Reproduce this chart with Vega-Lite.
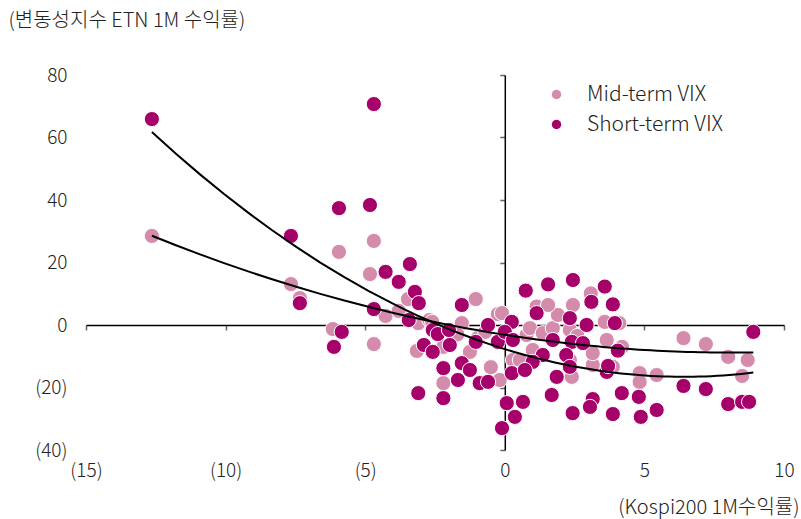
{
  "$schema": "https://vega.github.io/schema/vega-lite/v6.json",
  "width": 698,
  "height": 375,
  "autosize": "none",
  "padding": {"left": 86, "top": 75, "right": 17, "bottom": 69},
  "background": "white",
  "config": {
    "view": {"stroke": null},
    "font": "Noto Sans CJK KR",
    "axis": {
      "labelFont": "Noto Sans CJK KR",
      "labelFontSize": 19,
      "labelFontWeight": 300,
      "labelColor": "#222222",
      "titleFont": "Noto Sans CJK KR",
      "titleFontSize": 20,
      "titleFontWeight": 300,
      "titleColor": "#222222",
      "grid": false,
      "domainColor": "#000000",
      "domainWidth": 1.5,
      "tickColor": "#666666",
      "tickWidth": 1.5,
      "tickSize": 5,
      "labelFlush": false,
      "labelOverlap": false
    },
    "legend": {
      "labelFont": "Noto Sans CJK KR",
      "labelFontSize": 21,
      "labelFontWeight": 300,
      "labelColor": "#222222"
    }
  },
  "data": {
    "values": [
      {"series": "Mid-term VIX", "x": -12.64, "y": 28.5},
      {"series": "Mid-term VIX", "x": -7.66, "y": 13.1},
      {"series": "Mid-term VIX", "x": -7.34, "y": 8.6},
      {"series": "Mid-term VIX", "x": -5.94, "y": 23.4},
      {"series": "Mid-term VIX", "x": -4.69, "y": 26.9},
      {"series": "Mid-term VIX", "x": -4.83, "y": 16.3},
      {"series": "Mid-term VIX", "x": -4.27, "y": 2.9},
      {"series": "Mid-term VIX", "x": -3.8, "y": 4.5},
      {"series": "Mid-term VIX", "x": -6.16, "y": -1.3},
      {"series": "Mid-term VIX", "x": -4.69, "y": -6.1},
      {"series": "Mid-term VIX", "x": -3.47, "y": 8.3},
      {"series": "Mid-term VIX", "x": -3.1, "y": 0.6},
      {"series": "Mid-term VIX", "x": -3.15, "y": -8.3},
      {"series": "Mid-term VIX", "x": -2.7, "y": 1.6},
      {"series": "Mid-term VIX", "x": -2.6, "y": 1.0},
      {"series": "Mid-term VIX", "x": -1.54, "y": 0.6},
      {"series": "Mid-term VIX", "x": -1.04, "y": 8.3},
      {"series": "Mid-term VIX", "x": -0.25, "y": 3.5},
      {"series": "Mid-term VIX", "x": -2.2, "y": -7.0},
      {"series": "Mid-term VIX", "x": -1.25, "y": -8.6},
      {"series": "Mid-term VIX", "x": -0.97, "y": -4.2},
      {"series": "Mid-term VIX", "x": -0.7, "y": -2.2},
      {"series": "Mid-term VIX", "x": -1.7, "y": -3.0},
      {"series": "Mid-term VIX", "x": -2.2, "y": -18.6},
      {"series": "Mid-term VIX", "x": -0.18, "y": -17.6},
      {"series": "Mid-term VIX", "x": -0.5, "y": -13.5},
      {"series": "Mid-term VIX", "x": 0.29, "y": -11.2},
      {"series": "Mid-term VIX", "x": -0.1, "y": 3.8},
      {"series": "Mid-term VIX", "x": 0.78, "y": -3.2},
      {"series": "Mid-term VIX", "x": 0.9, "y": -1.0},
      {"series": "Mid-term VIX", "x": 1.36, "y": -2.6},
      {"series": "Mid-term VIX", "x": 1.72, "y": -1.0},
      {"series": "Mid-term VIX", "x": 2.33, "y": -1.6},
      {"series": "Mid-term VIX", "x": 2.6, "y": -3.5},
      {"series": "Mid-term VIX", "x": 1.9, "y": 3.2},
      {"series": "Mid-term VIX", "x": 1.14, "y": 5.9},
      {"series": "Mid-term VIX", "x": 1.55, "y": 6.4},
      {"series": "Mid-term VIX", "x": 2.44, "y": 6.4},
      {"series": "Mid-term VIX", "x": 3.08, "y": 10.1},
      {"series": "Mid-term VIX", "x": 3.58, "y": 1.0},
      {"series": "Mid-term VIX", "x": 4.1, "y": 0.6},
      {"series": "Mid-term VIX", "x": 3.65, "y": -4.8},
      {"series": "Mid-term VIX", "x": 4.2, "y": -7.0},
      {"series": "Mid-term VIX", "x": 1.0, "y": -8.0},
      {"series": "Mid-term VIX", "x": 0.54, "y": -11.2},
      {"series": "Mid-term VIX", "x": 2.33, "y": -11.2},
      {"series": "Mid-term VIX", "x": 2.4, "y": -16.6},
      {"series": "Mid-term VIX", "x": 3.15, "y": -12.8},
      {"series": "Mid-term VIX", "x": 3.15, "y": -9.0},
      {"series": "Mid-term VIX", "x": 3.87, "y": -13.4},
      {"series": "Mid-term VIX", "x": 4.83, "y": -15.4},
      {"series": "Mid-term VIX", "x": 4.83, "y": -18.2},
      {"series": "Mid-term VIX", "x": 5.44, "y": -16.0},
      {"series": "Mid-term VIX", "x": 6.4, "y": -4.2},
      {"series": "Mid-term VIX", "x": 7.2, "y": -6.1},
      {"series": "Mid-term VIX", "x": 8.0, "y": -10.2},
      {"series": "Mid-term VIX", "x": 8.7, "y": -11.2},
      {"series": "Mid-term VIX", "x": 8.5, "y": -16.3},
      {"series": "Mid-term VIX", "x": 8.9, "y": -2.3},
      {"series": "Short-term VIX", "x": -12.64, "y": 65.9},
      {"series": "Short-term VIX", "x": -7.66, "y": 28.5},
      {"series": "Short-term VIX", "x": -7.34, "y": 7.0},
      {"series": "Short-term VIX", "x": -5.94, "y": 37.4},
      {"series": "Short-term VIX", "x": -5.84, "y": -2.2},
      {"series": "Short-term VIX", "x": -6.12, "y": -7.0},
      {"series": "Short-term VIX", "x": -4.83, "y": 38.4},
      {"series": "Short-term VIX", "x": -4.69, "y": 70.7},
      {"series": "Short-term VIX", "x": -4.69, "y": 5.1},
      {"series": "Short-term VIX", "x": -4.27, "y": 17.0},
      {"series": "Short-term VIX", "x": -3.8, "y": 13.8},
      {"series": "Short-term VIX", "x": -3.4, "y": 19.5},
      {"series": "Short-term VIX", "x": -3.22, "y": 10.6},
      {"series": "Short-term VIX", "x": -3.08, "y": 7.0},
      {"series": "Short-term VIX", "x": -3.44, "y": 1.6},
      {"series": "Short-term VIX", "x": -3.1, "y": -21.8},
      {"series": "Short-term VIX", "x": -2.9, "y": -6.4},
      {"series": "Short-term VIX", "x": -2.58, "y": -1.6},
      {"series": "Short-term VIX", "x": -2.4, "y": -2.9},
      {"series": "Short-term VIX", "x": -2.0, "y": -1.6},
      {"series": "Short-term VIX", "x": -1.54, "y": 6.4},
      {"series": "Short-term VIX", "x": -1.97, "y": -6.4},
      {"series": "Short-term VIX", "x": -2.58, "y": -8.6},
      {"series": "Short-term VIX", "x": -1.04, "y": -5.4},
      {"series": "Short-term VIX", "x": -0.6, "y": 0.0},
      {"series": "Short-term VIX", "x": -0.25, "y": -5.4},
      {"series": "Short-term VIX", "x": 0.25, "y": 1.0},
      {"series": "Short-term VIX", "x": 0.0, "y": -2.2},
      {"series": "Short-term VIX", "x": 0.29, "y": -4.8},
      {"series": "Short-term VIX", "x": -2.2, "y": -13.8},
      {"series": "Short-term VIX", "x": -1.54, "y": -12.2},
      {"series": "Short-term VIX", "x": -1.25, "y": -14.4},
      {"series": "Short-term VIX", "x": -1.68, "y": -17.6},
      {"series": "Short-term VIX", "x": -0.9, "y": -18.6},
      {"series": "Short-term VIX", "x": -0.6, "y": -18.2},
      {"series": "Short-term VIX", "x": 0.25, "y": -15.4},
      {"series": "Short-term VIX", "x": -2.2, "y": -23.4},
      {"series": "Short-term VIX", "x": 0.07, "y": -25.0},
      {"series": "Short-term VIX", "x": 0.36, "y": -29.4},
      {"series": "Short-term VIX", "x": -0.1, "y": -33.0},
      {"series": "Short-term VIX", "x": 0.75, "y": 11.0},
      {"series": "Short-term VIX", "x": 1.55, "y": 13.0},
      {"series": "Short-term VIX", "x": 2.44, "y": 14.4},
      {"series": "Short-term VIX", "x": 3.58, "y": 12.3},
      {"series": "Short-term VIX", "x": 3.1, "y": 7.4},
      {"series": "Short-term VIX", "x": 3.87, "y": 6.6},
      {"series": "Short-term VIX", "x": 1.14, "y": 3.8},
      {"series": "Short-term VIX", "x": 2.33, "y": 2.2},
      {"series": "Short-term VIX", "x": 2.93, "y": 0.0},
      {"series": "Short-term VIX", "x": 3.94, "y": 0.6},
      {"series": "Short-term VIX", "x": 1.72, "y": -4.8},
      {"series": "Short-term VIX", "x": 2.4, "y": -5.4},
      {"series": "Short-term VIX", "x": 2.8, "y": -5.8},
      {"series": "Short-term VIX", "x": 4.05, "y": -8.2},
      {"series": "Short-term VIX", "x": 1.36, "y": -9.6},
      {"series": "Short-term VIX", "x": 1.0, "y": -11.8},
      {"series": "Short-term VIX", "x": 0.72, "y": -14.4},
      {"series": "Short-term VIX", "x": 2.2, "y": -9.6},
      {"series": "Short-term VIX", "x": 2.33, "y": -13.4},
      {"series": "Short-term VIX", "x": 1.86, "y": -16.6},
      {"series": "Short-term VIX", "x": 3.65, "y": -15.0},
      {"series": "Short-term VIX", "x": 3.7, "y": -13.1},
      {"series": "Short-term VIX", "x": 1.68, "y": -22.4},
      {"series": "Short-term VIX", "x": 0.65, "y": -24.6},
      {"series": "Short-term VIX", "x": 3.15, "y": -23.7},
      {"series": "Short-term VIX", "x": 3.05, "y": -26.2},
      {"series": "Short-term VIX", "x": 2.43, "y": -28.2},
      {"series": "Short-term VIX", "x": 3.87, "y": -28.5},
      {"series": "Short-term VIX", "x": 4.19, "y": -21.8},
      {"series": "Short-term VIX", "x": 4.8, "y": -23.0},
      {"series": "Short-term VIX", "x": 4.87, "y": -29.4},
      {"series": "Short-term VIX", "x": 5.44, "y": -27.2},
      {"series": "Short-term VIX", "x": 6.4, "y": -19.5},
      {"series": "Short-term VIX", "x": 7.2, "y": -20.5},
      {"series": "Short-term VIX", "x": 8.0, "y": -25.3},
      {"series": "Short-term VIX", "x": 8.5, "y": -24.6},
      {"series": "Short-term VIX", "x": 8.75, "y": -24.6},
      {"series": "Short-term VIX", "x": 8.9, "y": -2.2}
    ]
  },
  "encoding": {
    "x": {
      "field": "x",
      "type": "quantitative",
      "scale": {"domain": [-15, 10], "nice": false, "zero": false},
      "axis": {
        "values": [-15, -10, -5, 0, 5, 10],
        "labelExpr": "datum.value < 0 ? '(' + abs(datum.value) + ')' : datum.label",
        "offset": {"expr": "-height/3"},
        "labelPadding": {"expr": "height/3 + 6"},
        "title": "(Kospi200 1M수익률)",
        "titleAlign": "right",
        "titleBaseline": "middle",
        "titleAnchor": "end",
        "titleX": {"expr": "width + 15"},
        "titleY": {"expr": "height/3 + 57"}
      }
    },
    "y": {
      "field": "y",
      "type": "quantitative",
      "scale": {"domain": [-40, 80], "nice": false, "zero": false},
      "axis": {
        "values": [-40, -20, 0, 20, 40, 60, 80],
        "labelExpr": "datum.value < 0 ? '(' + abs(datum.value) + ')' : datum.label + '\u2008'",
        "offset": {"expr": "-width*0.6"},
        "labelPadding": {"expr": "width*0.6 + 14"},
        "title": "(변동성지수 ETN 1M 수익률)",
        "titleAngle": 0,
        "titleAlign": "left",
        "titleBaseline": "middle",
        "titleX": {"expr": "-width*0.6 - 78"},
        "titleY": -55
      }
    }
  },
  "layer": [
    {
      "mark": {"type": "point", "filled": true, "shape": "circle", "size": 230, "opacity": 1, "stroke": "white", "strokeWidth": 1},
      "encoding": {
        "color": {
          "field": "series",
          "type": "nominal",
          "scale": {"domain": ["Mid-term VIX", "Short-term VIX"], "range": ["#D58CAC", "#A6006B"]},
          "legend": {
            "title": null,
            "orient": "none",
            "legendX": 460,
            "legendY": 9,
            "symbolType": "circle",
            "symbolSize": 90,
            "symbolStrokeWidth": 0,
            "labelOffset": 20,
            "rowPadding": 8
          }
        }
      }
    },
    {
      "transform": [
        {"regression": "y", "on": "x", "groupby": ["series"], "method": "poly", "order": 2}
      ],
      "mark": {"type": "line", "color": "#000000", "strokeWidth": 2},
      "encoding": {
        "detail": {"field": "series", "type": "nominal"}
      }
    }
  ]
}
